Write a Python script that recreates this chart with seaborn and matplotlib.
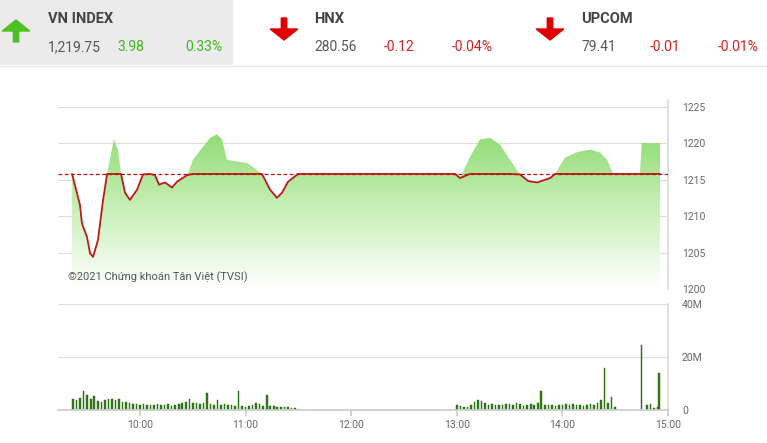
import numpy as np
import pandas as pd
import matplotlib
matplotlib.use("Agg")
import matplotlib.pyplot as plt
import seaborn as sns
from matplotlib.colors import LinearSegmentedColormap
from matplotlib.patches import Rectangle, FancyArrow

# price path, minutes after 09:00
price_min = [21.4, 25.9, 27, 29.9, 31.6, 33.3, 36.1, 39, 41.3, 45.2, 47.5, 49.2, 51.5, 54.3,
             58.3, 61.7, 65.7, 68.5, 70.8, 74.2, 78.2, 81, 86.7, 90.1, 95.8, 99.8, 103.8,
             106.6, 109.4, 116.8, 120.8, 126.5, 129.3, 133.9, 137.8, 140.7, 144.1, 149.8,
             239, 241.8, 247.5, 253.2, 258.9, 264.5, 270.2, 275.9, 280.5, 285.6, 293,
             295.8, 301.5, 308.9, 315.7, 321.4, 325.4, 328.8, 344, 345.1, 355.5]
price_val = [1215.8, 1211.5, 1209.0, 1207.1, 1204.9, 1204.4, 1206.7, 1212.2, 1215.8, 1220.5,
             1219.0, 1215.8, 1213.2, 1212.2, 1213.6, 1215.7, 1215.8, 1215.6, 1214.3, 1214.6,
             1213.9, 1214.7, 1215.6, 1217.7, 1219.5, 1220.7, 1221.2, 1220.5, 1217.7, 1217.4,
             1217.3, 1216.3, 1215.8, 1213.6, 1212.5, 1213.2, 1214.7, 1215.8,
             1215.8, 1215.2, 1218.1, 1220.5, 1220.7, 1219.8, 1217.7, 1215.7, 1214.8, 1214.6,
             1215.2, 1215.8, 1218.0, 1218.8, 1219.1, 1218.7, 1217.7, 1215.8, 1215.8, 1220.0,
             1220.0]
ref_price = 1215.77

# volume (millions), one bar every 2 minutes
vol_am_start = 22
vol_am = [4.2, 3.8, 4.5, 7.2, 5.5, 4.0, 5.2, 3.5, 3.0, 3.6, 4.0, 4.2, 3.9, 4.3, 3.2, 3.0,
          2.6, 2.2, 2.4, 2.0, 2.2, 1.9, 2.0, 1.8, 2.1, 2.0, 1.7, 2.2, 1.6, 1.9, 2.1, 2.5,
          3.0, 4.2, 2.8, 2.5, 2.2, 2.6, 6.5, 2.2, 1.8, 3.8, 2.0, 2.3, 1.7, 1.9, 1.6, 7.0,
          1.5, 1.3, 1.4, 2.0, 2.8, 2.2, 1.6, 5.5, 1.6, 1.4, 1.2, 1.3, 1.0, 1.2, 0.9, 0.7, 0.5]
vol_pm_start = 240
vol_pm = [2.0, 1.5, 1.2, 1.0, 1.8, 3.0, 3.8, 3.5, 2.6, 2.0, 2.2, 1.9, 2.0, 1.8, 2.4, 2.1,
          1.8, 2.5, 2.2, 1.6, 2.0, 2.3, 1.8, 2.6, 7.0, 2.0, 1.7, 1.9, 1.6, 1.8, 2.0, 2.3,
          2.0, 2.2, 1.8, 2.0, 1.6, 1.8, 2.1, 1.9, 2.6, 3.8, 16.0, 2.5, 4.8, 1.2]
vol_atc_min = [345, 348, 350, 352, 354, 355]
vol_atc = [24.5, 2.0, 2.4, 0.8, 1.0, 14.0]

tick_min = [60, 120, 180, 240, 300, 360]
tick_lab = ["10:00", "11:00", "12:00", "13:00", "14:00", "15:00"]

sns.set_theme(style="white")
plt.rcParams['font.family'] = ['Roboto', 'DejaVu Sans']

W, H = 767, 443
fig = plt.figure(figsize=(W / 100, H / 100), dpi=100)

def fx(px): return px / W
def fy(py): return 1 - py / H

# header
fig.patches.append(Rectangle((0, fy(65)), fx(233), 65 / H, transform=fig.transFigure,
                             facecolor="#ebebeb", edgecolor="none", zorder=0))
fig.add_artist(FancyArrow(fx(16), fy(42), 0, 22 / H, width=0.007, head_width=0.036,
                          head_length=11 / H, length_includes_head=True,
                          color="#4cc01e", transform=fig.transFigure))
for ax_x in [284, 550]:
    fig.add_artist(FancyArrow(fx(ax_x), fy(18), 0, -22 / H, width=0.007, head_width=0.036,
                              head_length=11 / H, length_includes_head=True,
                              color="#e00000", transform=fig.transFigure))
grey, green, red = "#555555", "#3db81a", "#d42020"
headers = [(48, "VN INDEX", [("1,219.75", 48, grey), ("3.98", 117, green), ("0.33%", 185, green)]),
           (314, "HNX", [("280.56", 314, grey), ("-0.12", 384, red), ("-0.04%", 452, red)]),
           (581, "UPCOM", [("79.41", 581, grey), ("-0.01", 650, red), ("-0.01%", 718, red)])]
for x0, name, vals in headers:
    fig.text(fx(x0), fy(19), name, fontsize=10.5, fontweight="bold", color="#444444",
             va="center")
    for t, xx, c in vals:
        fig.text(fx(xx), fy(47), t, fontsize=10, color=c, va="center")
fig.add_artist(plt.Line2D([0, 1], [fy(66), fy(66)], color="#e6e6e6", lw=1,
                          transform=fig.transFigure))

left, right = fx(58), fx(668)
xlim = (13.4, 360)

# price panel
ax = fig.add_axes([left, fy(289), right - left, (289 - 100) / H])
ymin, ymax = 1200, 1225.9
ax.set_xlim(*xlim)
ax.set_ylim(ymin, ymax)
grad = LinearSegmentedColormap.from_list("g", ["#ffffff", "#c9f0b8", "#8fdc74"])
img = ax.imshow(np.linspace(0, 1, 256).reshape(-1, 1), extent=[xlim[0], xlim[1], ymin, 1221.5],
                origin="lower", aspect="auto", cmap=grad, zorder=1)
poly = ax.fill_between(price_min, price_val, ymin, color="none", lw=0)
img.set_clip_path(poly.get_paths()[0], transform=ax.transData)
# white area between a dip and the reference line
ax.fill_between(price_min, price_val, ref_price, where=np.array(price_val) < ref_price,
                interpolate=True, color="white", lw=0, zorder=2)
sns.lineplot(x=price_min, y=np.minimum(price_val, ref_price), ax=ax, color="#c01818",
             lw=1.3, zorder=4)
ax.axhline(ref_price, color="#b01010", lw=0.9, ls=(0, (3, 2)), zorder=3)
ax.set_yticks([1200, 1205, 1210, 1215, 1220, 1225])
ax.yaxis.tick_right()
ax.tick_params(axis="y", labelsize=7.5, labelcolor="#666666", length=0, pad=10)
ax.set_xticks([])
ax.grid(axis="y", color="#dddddd", lw=0.8)
for s in ["left", "top", "bottom"]:
    ax.spines[s].set_visible(False)
ax.spines["right"].set_color("#dddddd")
ax.text(19, 1201.2, "©2021 Chứng khoán Tân Việt (TVSI)", fontsize=8, color="#555555",
        zorder=5)

# volume panel
bx = fig.add_axes([left, fy(410), right - left, (410 - 304) / H])
vol = pd.DataFrame({
    "t": list(vol_am_start + 2 * np.arange(len(vol_am))) +
         list(vol_pm_start + 2 * np.arange(len(vol_pm))) + vol_atc_min,
    "v": vol_am + vol_pm + vol_atc})
bx.bar(vol["t"], vol["v"], width=0.9, color="#2f7d12", edgecolor="#256210", lw=0.3)
bx.set_xlim(*xlim)
bx.set_ylim(0, 40)
bx.set_yticks([0, 20, 40])
bx.set_yticklabels(["0", "20M", "40M"])
bx.yaxis.tick_right()
bx.tick_params(axis="y", labelsize=7.5, labelcolor="#666666", length=0, pad=10)
bx.set_xticks(tick_min)
bx.set_xticklabels(tick_lab)
bx.tick_params(axis="x", labelsize=7.5, labelcolor="#666666", length=4, color="#cccccc",
               bottom=True)
bx.grid(axis="y", color="#dddddd", lw=0.8)
for s in ["left", "top"]:
    bx.spines[s].set_visible(False)
bx.spines["right"].set_color("#dddddd")
bx.spines["bottom"].set_color("#cccccc")

fig.savefig("out.png", dpi=100)
